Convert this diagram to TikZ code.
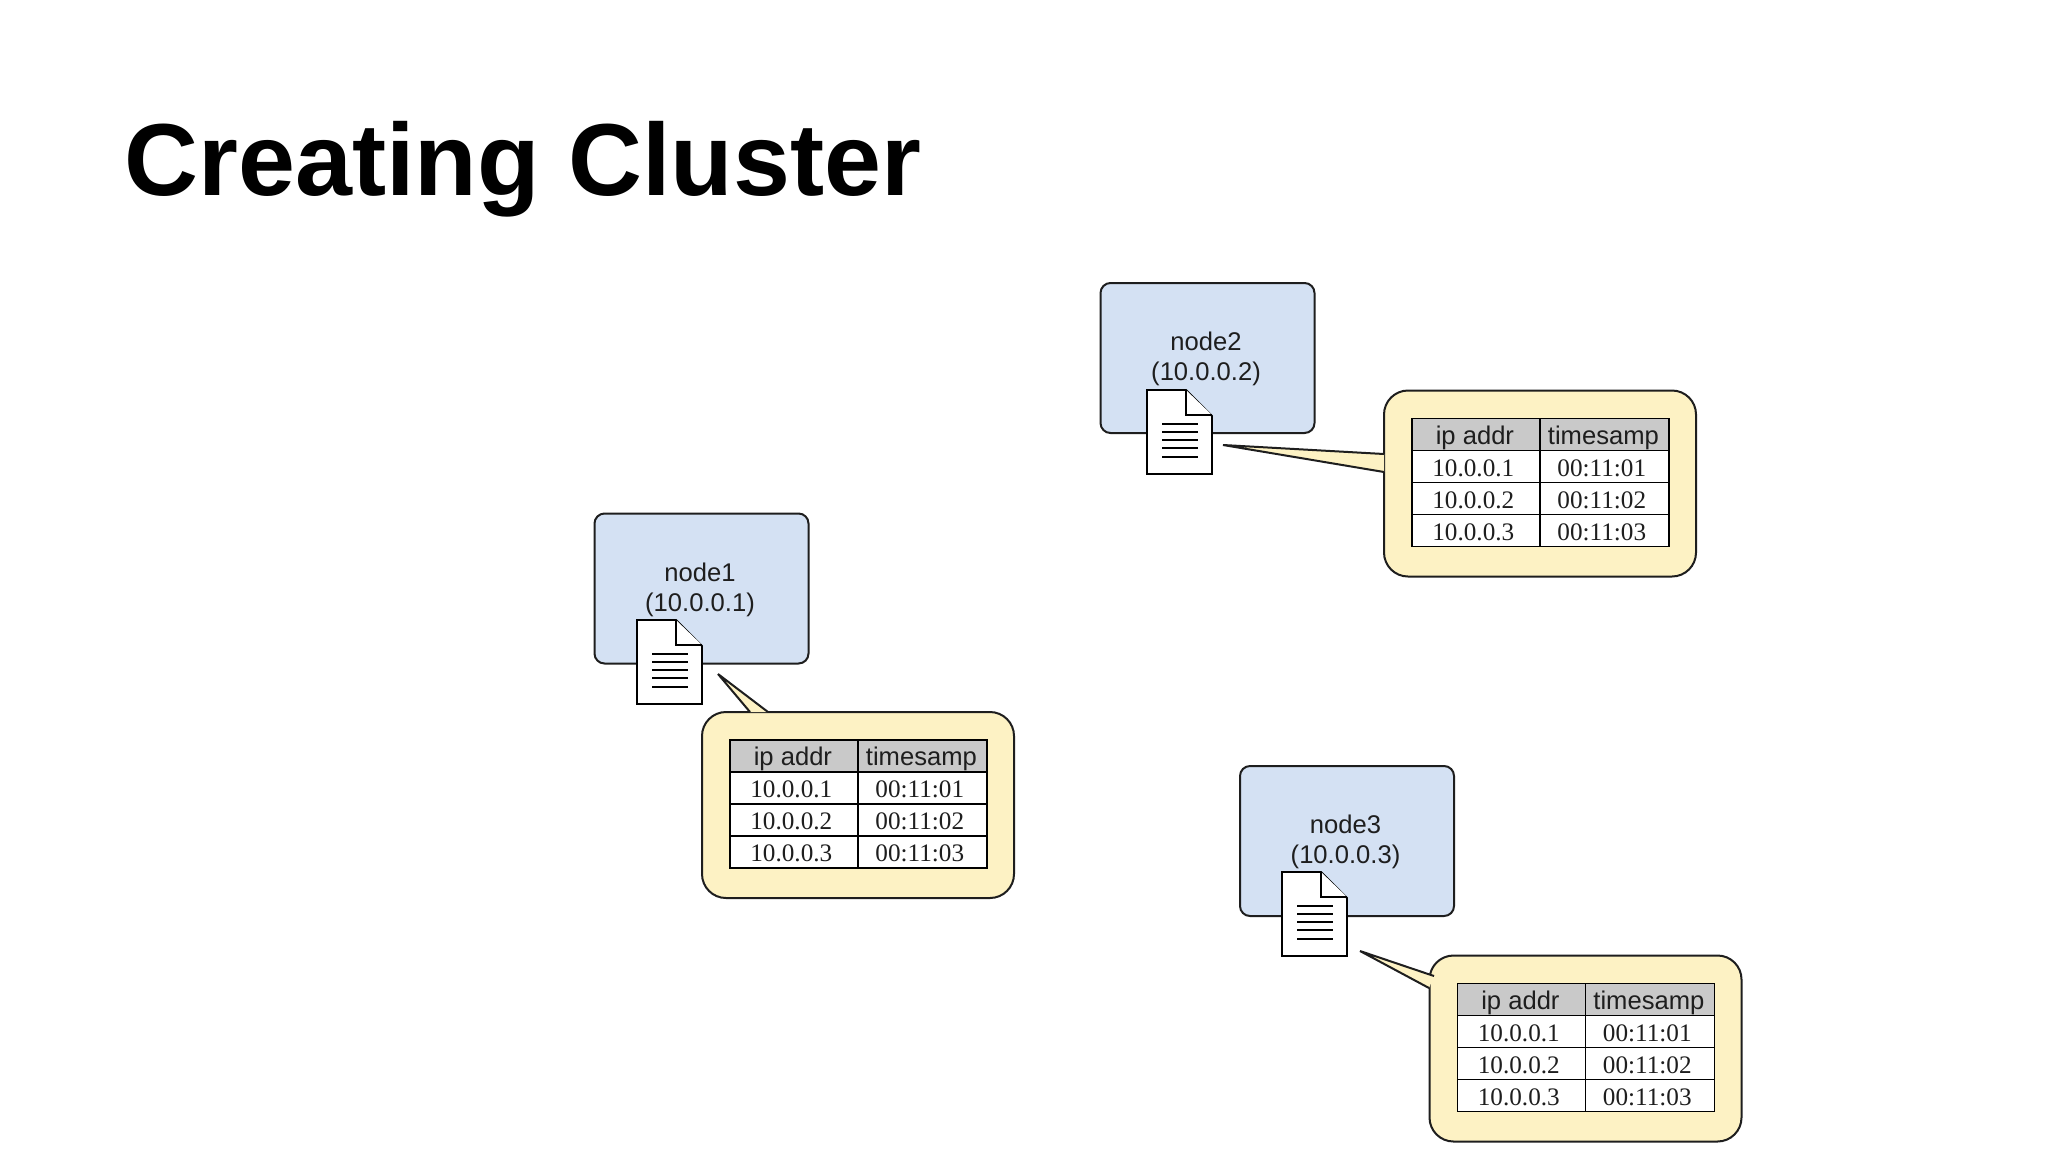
\documentclass[tikz,border=0pt]{standalone}
\usepackage{fontspec}
\setmainfont{Liberation Serif}
\setsansfont{Liberation Sans}
\definecolor{nodeblue}{HTML}{D4E1F3}
\definecolor{balloon}{HTML}{FDF2C4}
\definecolor{headgray}{HTML}{C9C9C9}
\definecolor{ink}{HTML}{1E1E1E}
\tikzset{
  hostbox/.style={draw=ink,line width=1pt,fill=nodeblue,rounded corners=5pt,minimum width=107pt,minimum height=75pt,inner sep=0pt,anchor=north west},
  hosttext/.style={font=\sffamily\fontsize{12.8}{15}\selectfont,text=ink,align=center,inner sep=0pt},
  balloonbox/.style={draw=ink,line width=1pt,fill=balloon,rounded corners=12pt,minimum width=156pt,minimum height=93pt,inner sep=0pt,anchor=north west},
  cellbase/.style={draw=black,line width=.9pt,minimum height=16pt,inner sep=0pt,anchor=north west,text height=10.5pt,text depth=.8pt},
  headcell/.style={cellbase,fill=headgray,font=\sffamily\fontsize{12.8}{15}\selectfont,text=ink,execute at end node={\kern1pt}},
  bodycell/.style={cellbase,fill=white,font=\fontsize{12.6}{15}\selectfont,text=ink,execute at end node={\kern2.6pt}},
  cola/.style={minimum width=64pt},
  colb/.style={minimum width=64.5pt},
  docsheet/.style={draw=black,line width=.9pt,fill=white,line join=miter},
  docrule/.style={draw=black,line width=1pt},
  tail/.style={draw=ink,line width=1pt,line join=bevel},
  title/.style={font=\sffamily\bfseries\fontsize{51.2}{60}\selectfont,text=black,inner sep=0pt,anchor=base west}
}
% #1 id, #2 name, #3 address, #4 box position, #5 document position, #6 balloon position, #7 tip, #8 base a, #9 base b
\newcommand{\hostgroup}[9]{%
  \node[hostbox] (#1box) at (#4) {};
  \node[hosttext] (#1label) at ([shift={(106.5,-75)}]#1box.south west) {#2\\(#3)};
  \begin{scope}[shift={(#5)}]
    \draw[docsheet] (0,0) -- (39,0) -- (65,26) -- (65,84) -- (0,84) -- cycle;
    \draw[docsheet] (39,0) -- (39,25) -- (65,25);
    \foreach \ry in {34,42,50,58,66.5}{\draw[docrule] (15,\ry) -- (51,\ry);}
  \end{scope}
  \node[balloonbox] (#1balloon) at (#6) {};
  \coordinate (#1tip) at (#7);
  \coordinate (#1basea) at (#8);
  \coordinate (#1baseb) at (#9);
  \fill[balloon] (#1basea) -- (#1tip) -- (#1baseb) -- cycle;
  \draw[tail] (#1basea) -- (#1tip) -- (#1baseb);
  \begin{scope}[shift={([shift={(28,28)}]#6)}]
    \node[headcell,cola] (#1h1) at (0,0) {ip addr};
    \node[headcell,colb] (#1h2) at (128,0) {timesamp};
    \node[bodycell,cola] (#1a1) at (0,32) {10.0.0.1};
    \node[bodycell,colb] (#1b1) at (128,32) {00:11:01};
    \node[bodycell,cola] (#1a2) at (0,64) {10.0.0.2};
    \node[bodycell,colb] (#1b2) at (128,64) {00:11:02};
    \node[bodycell,cola] (#1a3) at (0,96) {10.0.0.3};
    \node[bodycell,colb] (#1b3) at (128,96) {00:11:03};
  \end{scope}
}
\begin{document}
\begin{tikzpicture}[x=.5pt,y=-.5pt]
  \useasboundingbox (0,0) rectangle (2048,1152);
  \fill[white] (0,0) rectangle (2048,1152);
  \node[title] (heading) at (124,195) {Creating Cluster};
  \hostgroup{one}{node1}{10.0.0.1}{593.5,512.5}{637,620}{701,711}{718,674}{750,712}{768,712}
  \hostgroup{two}{node2}{10.0.0.2}{1099.5,282}{1147,390}{1383,389.5}{1223,445}{1384,454}{1384,472}
  \hostgroup{three}{node3}{10.0.0.3}{1239,765}{1282,872}{1428.5,954.5}{1360,951}{1434,976}{1429,988}
\end{tikzpicture}
\end{document}
